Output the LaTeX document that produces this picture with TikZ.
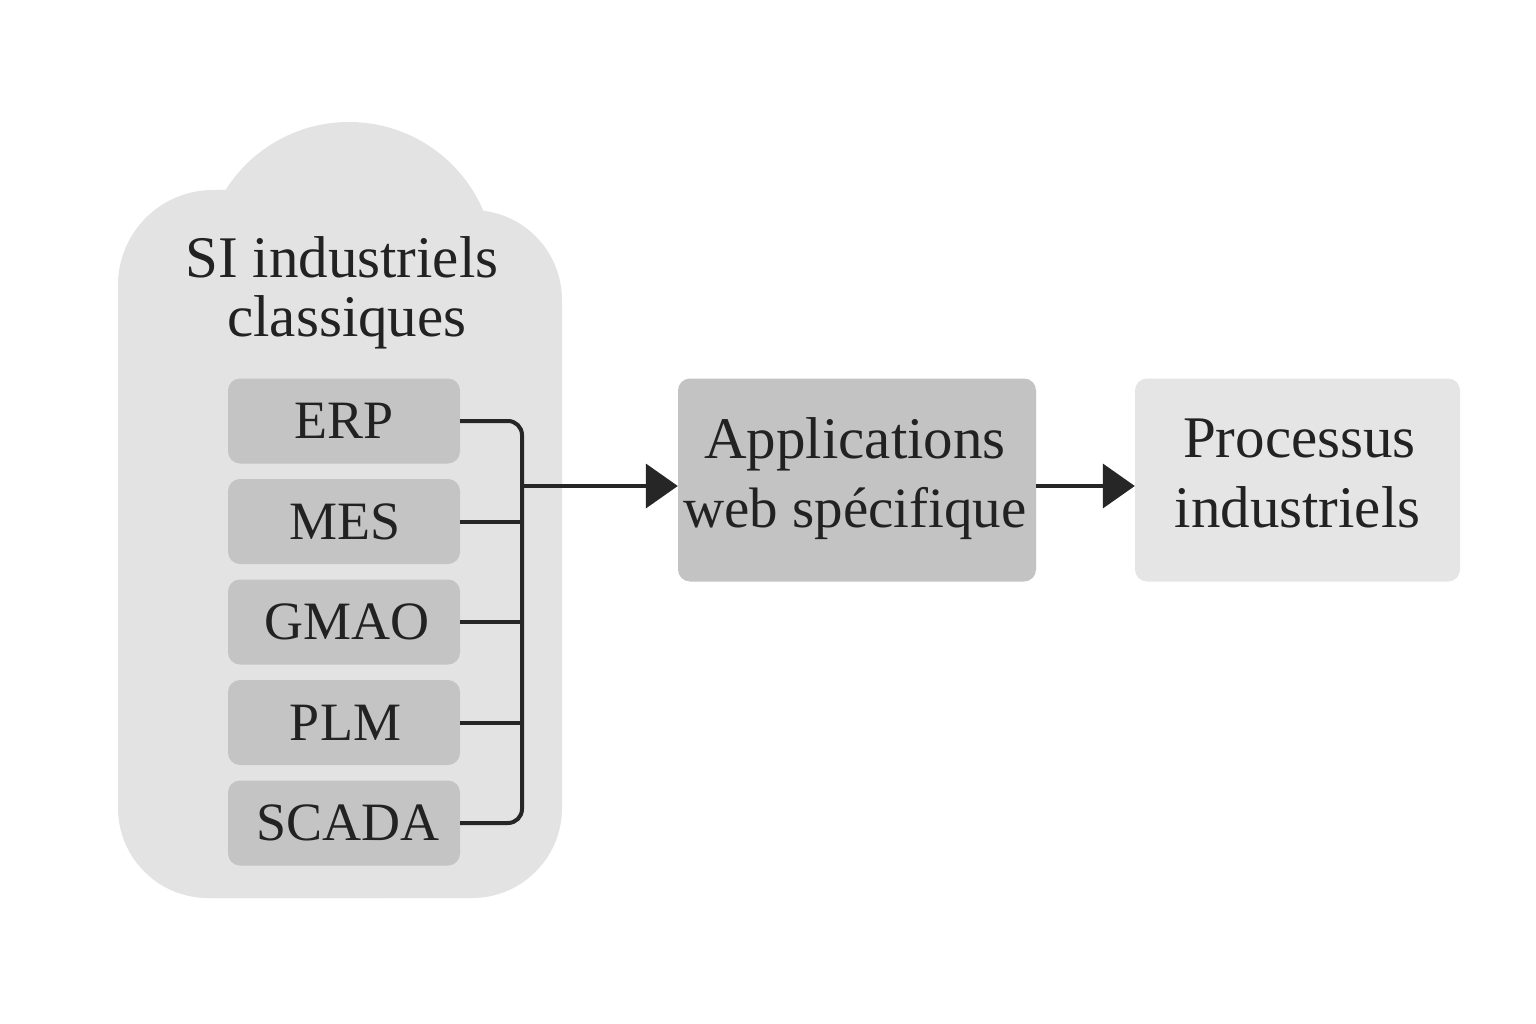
\documentclass[tikz,border=0pt]{standalone}
\usepackage{fontspec}
\setmainfont{Liberation Serif}
\usetikzlibrary{arrows.meta,calc}
\definecolor{cloudgray}{HTML}{E3E3E3}
\definecolor{boxgray}{HTML}{C4C4C4}
\definecolor{appgray}{HTML}{C3C3C3}
\definecolor{procgray}{HTML}{E5E5E5}
\definecolor{ink}{HTML}{222222}
\definecolor{wire}{HTML}{262626}
\begin{document}
\begin{tikzpicture}[x=1pt,y=-1pt,
  sysbox/.style={fill=boxgray, rounded corners=12pt, minimum width=232pt, minimum height=85pt,
    inner sep=0pt, text=ink, font=\fontsize{54}{60}\selectfont},
  bigbox/.style={rounded corners=12pt, minimum height=203pt, inner sep=0pt},
  lbl/.style={text=ink, font=\fontsize{59}{69}\selectfont, anchor=base, inner sep=0pt},
  conn/.style={draw=wire, line width=4pt},
  arr/.style={conn, -{Triangle[length=32pt,width=44pt]}}]
% page
\fill[white] (0,0) rectangle (1536,1024);
\useasboundingbox (0,0) rectangle (1536,1024);
% cloud container
\fill[cloudgray, rounded corners=95pt] (118,190) rectangle (480,898);
\fill[cloudgray, rounded corners=90pt] (118,210) rectangle (562,898);
\fill[cloudgray] (349,268) circle[radius=146];
\node[lbl] (si1) at (342,277) {SI industriels};
\node[lbl] (si2) at (347,336) {classiques};
% systems
\node[sysbox] (erp)   at (344,421)   {ERP};
\node[sysbox] (mes)   at (344,521.5) {\hspace*{3pt}MES};
\node[sysbox] (gmao)  at (344,622)   {\hspace*{6pt}GMAO};
\node[sysbox] (plm)   at (344,722.5) {\hspace*{3pt}PLM};
\node[sysbox] (scada) at (344,823)   {\hspace*{8pt}SCADA};
% main boxes
\node[bigbox, fill=appgray, minimum width=358pt] (app) at (857,480) {};
\node[lbl] (app1) at ($(app.center)+(-2,-22)$) {Applications};
\node[lbl, font=\fontsize{57}{69}\selectfont] (app2) at ($(app.center)+(-2,47)$) {web spécifique};
\node[bigbox, fill=procgray, minimum width=325pt] (proc) at (1297.5,480) {};
\node[lbl] (proc1) at ($(proc.center)+(2,-23)$) {Processus};
\node[lbl] (proc2) at ($(proc.center)+(0,47)$) {industriels};
% bus
\coordinate (bustop) at (522,421);
\draw[conn, rounded corners=14pt] (erp.east) -- (erp.east -| bustop) -- (scada.east -| bustop) -- (scada.east);
\foreach \n in {mes,gmao,plm} \draw[conn] (\n.east) -- (\n.east -| bustop);
\coordinate (busout) at (522,486);
\draw[arr] (busout) -- (busout -| app.west);
\draw[arr] (busout -| app.east) -- (busout -| proc.west);
\end{tikzpicture}
\end{document}
